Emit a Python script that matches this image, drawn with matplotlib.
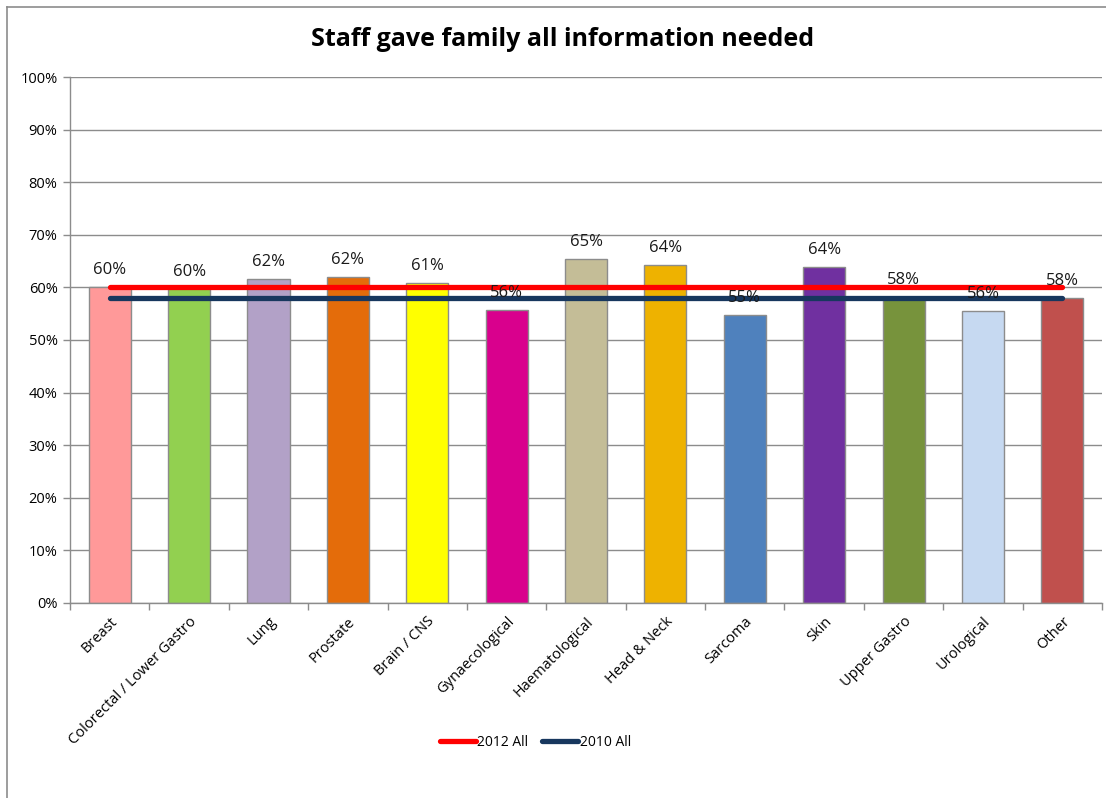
import matplotlib
matplotlib.use("Agg")
import matplotlib.pyplot as plt
from matplotlib.lines import Line2D
import numpy as np

categories = ["Breast", "Colorectal / Lower Gastro", "Lung", "Prostate", "Brain / CNS",
              "Gynaecological", "Haematological", "Head & Neck", "Sarcoma", "Skin",
              "Upper Gastro", "Urological", "Other"]
values_2012 = [0.601, 0.598, 0.616, 0.620, 0.609, 0.557, 0.654, 0.643, 0.548, 0.639,
               0.582, 0.556, 0.579]
all_2012 = 0.60
all_2010 = 0.58
bar_colors = ["#FF9999", "#92D050", "#B2A1C7", "#E46C0A", "#FFFF00", "#D9008D",
              "#C4BD97", "#EEB200", "#4F81BD", "#7030A0", "#77933C", "#C6D9F1", "#C0504D"]
y_ticks = np.arange(0, 1.01, 0.1)

plt.rcParams['font.family'] = ['Open Sans', 'DejaVu Sans']

fig = plt.figure(figsize=(11.06, 7.98), dpi=100)
ax = fig.add_axes([0.0633, 0.2444, 0.9331, 0.6591])

x = np.arange(len(categories))
ax.bar(x, values_2012, width=0.53, color=bar_colors, edgecolor="#8C8C8C",
       linewidth=1.0, zorder=2)
for xi, v in zip(x, values_2012):
    ax.text(xi, v + 0.017, f"{v*100:.0f}%", ha="center", va="bottom",
            fontsize=12, color="#1a1a1a", zorder=4)

ax.plot(x, [all_2012] * len(x), color="#FF0000", lw=3.8, solid_capstyle="round",
        zorder=3, label="2012 All")
ax.plot(x, [all_2010] * len(x), color="#17375E", lw=3.8, solid_capstyle="round",
        zorder=3, label="2010 All")

ax.set_xlim(-0.5, len(categories) - 0.5)
ax.set_ylim(0, 1.0)
ax.set_yticks(y_ticks)
ax.set_yticklabels([f"{int(round(t*100))}%" for t in y_ticks], fontsize=10.5)
ax.yaxis.grid(True, color="#8C8C8C", lw=1.0, zorder=0)
ax.set_axisbelow(True)

ax.set_xticks(x)
ax.set_xticklabels(categories, rotation=45, ha="right", rotation_mode="anchor",
                   fontsize=10.5)
ax.tick_params(axis="x", length=0, pad=8)
ax.set_xticks(np.arange(-0.5, len(categories)), minor=True)
ax.tick_params(axis="x", which="minor", length=5, color="#8C8C8C", width=1)
ax.tick_params(axis="y", length=5, color="#8C8C8C", width=1, pad=4)

for s in ["top", "right"]:
    ax.spines[s].set_visible(False)
for s in ["left", "bottom"]:
    ax.spines[s].set_color("#8C8C8C")
    ax.spines[s].set_linewidth(1.0)

fig.text(0.509, 0.951, "Staff gave family all information needed", ha="center",
         va="center", fontsize=18, fontweight="bold", color="#000000")

handles = [Line2D([], [], color="#FF0000", lw=3.8, solid_capstyle="round"),
           Line2D([], [], color="#17375E", lw=3.8, solid_capstyle="round")]
fig.legend(handles, ["2012 All", "2010 All"], loc="center", bbox_to_anchor=(0.484, 0.07),
           ncol=2, frameon=False, fontsize=10, handlelength=2.6, handletextpad=0.1,
           columnspacing=1.0)

# outer chart frame (left and top edges)
fig.add_artist(Line2D([7 / 1106, 7 / 1106], [0, 1 - 7 / 798], color="#8C8C8C", lw=1.2,
                      transform=fig.transFigure))
fig.add_artist(Line2D([7 / 1106, 1], [1 - 7 / 798, 1 - 7 / 798], color="#8C8C8C", lw=1.2,
                      transform=fig.transFigure))

fig.savefig("out.png", dpi=100, facecolor="white")
